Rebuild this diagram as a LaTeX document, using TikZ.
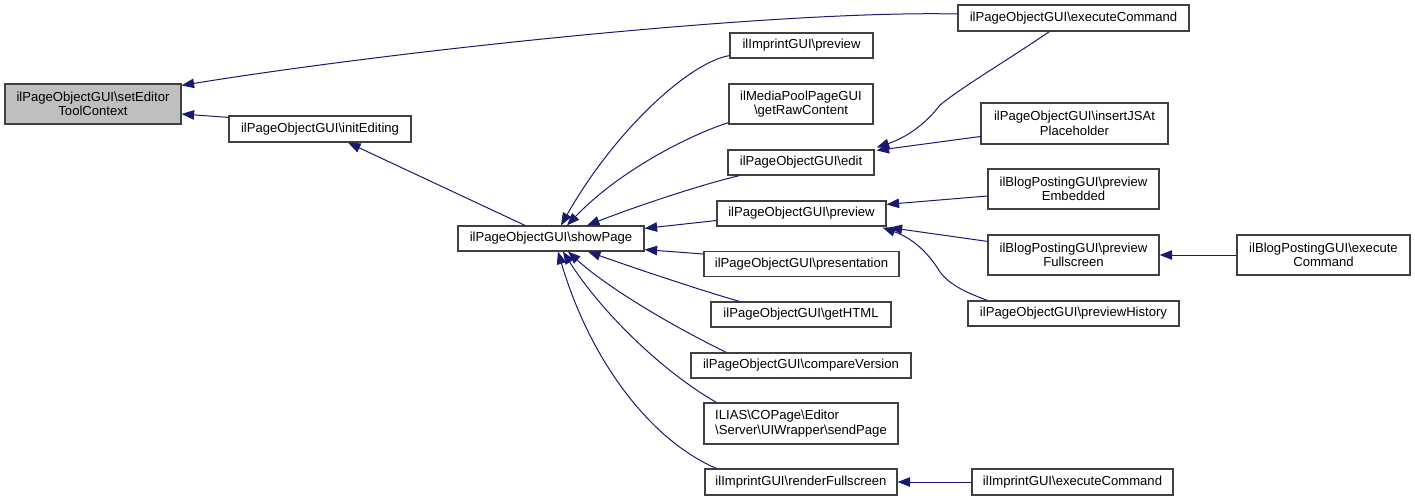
\documentclass[tikz,border=0pt]{standalone}
\usepackage{fontspec}
\newfontfamily\dxfont{Liberation Sans}
\usetikzlibrary{arrows.meta,calc}
\definecolor{edgecol}{HTML}{191970}
\definecolor{boxline}{HTML}{404040}
\definecolor{boxfill}{HTML}{BFBFBF}
\tikzset{
  fnbox/.style={draw=boxline, line width=1.2pt, fill=white, inner sep=0pt, align=center,
    font=\dxfont\fontsize{13.1}{14.5}\selectfont},
  curbox/.style={fnbox, fill=boxfill},
  edge/.style={draw=edgecol, line width=1pt, -{Triangle[length=12.5pt,width=9.5pt]}}
}
\begin{document}
\begin{tikzpicture}[x=1pt,y=-1pt]
\useasboundingbox[fill=white] (0,0) rectangle (1415,501);
% nodes
\node[curbox, minimum width=176pt, minimum height=40pt] (setEditor) at (93,104) {ilPageObjectGUI\textbackslash setEditor\\ToolContext};
\node[fnbox, minimum width=182pt, minimum height=26pt] (initEditing) at (320,129) {ilPageObjectGUI\textbackslash initEditing};
\node[fnbox, minimum width=186pt, minimum height=25pt] (showPage) at (551,238.5) {ilPageObjectGUI\textbackslash showPage};
\node[fnbox, minimum width=231pt, minimum height=26pt] (execPO) at (1073.5,18) {ilPageObjectGUI\textbackslash executeCommand};
\node[fnbox, minimum width=143pt, minimum height=25pt] (imprintPreview) at (801.5,45.5) {ilImprintGUI\textbackslash preview};
\node[fnbox, minimum width=144pt, minimum height=40pt] (mediaPool) at (801,104) {ilMediaPoolPageGUI\\\textbackslash getRawContent};
\node[fnbox, minimum width=146pt, minimum height=25pt] (edit) at (801,162.5) {ilPageObjectGUI\textbackslash edit};
\node[fnbox, minimum width=169pt, minimum height=25pt] (preview) at (801.5,213.5) {ilPageObjectGUI\textbackslash preview};
\node[fnbox, minimum width=195pt, minimum height=25pt] (presentation) at (801.5,264) {ilPageObjectGUI\textbackslash presentation};
\node[fnbox, minimum width=180pt, minimum height=25pt] (getHTML) at (801,314.5) {ilPageObjectGUI\textbackslash getHTML};
\node[fnbox, minimum width=220pt, minimum height=25pt] (compareVersion) at (801,365.5) {ilPageObjectGUI\textbackslash compareVersion};
\node[fnbox, align=left, minimum width=194pt, minimum height=41pt] (sendPage) at (801,423.5) {ILIAS\textbackslash COPage\textbackslash Editor\\\textbackslash Server\textbackslash UIWrapper\textbackslash sendPage};
\node[fnbox, minimum width=192pt, minimum height=26pt] (renderFullscreen) at (801,482) {ilImprintGUI\textbackslash renderFullscreen};
\node[fnbox, minimum width=187pt, minimum height=41pt] (insertJS) at (1074.5,123.5) {ilPageObjectGUI\textbackslash insertJSAt\\Placeholder};
\node[fnbox, minimum width=171pt, minimum height=40pt] (previewEmbedded) at (1073.5,189) {ilBlogPostingGUI\textbackslash preview\\Embedded};
\node[fnbox, minimum width=171pt, minimum height=40pt] (previewFullscreen) at (1073.5,255) {ilBlogPostingGUI\textbackslash preview\\Fullscreen};
\node[fnbox, minimum width=211pt, minimum height=25pt] (previewHistory) at (1073.5,313.5) {ilPageObjectGUI\textbackslash previewHistory};
\node[fnbox, minimum width=173pt, minimum height=40pt] (blogExec) at (1323.5,255) {ilBlogPostingGUI\textbackslash execute\\Command};
\node[fnbox, minimum width=201pt, minimum height=26pt] (imprintExec) at (1072.5,482) {ilImprintGUI\textbackslash executeCommand};
% edges
\draw[edge] ($(execPO.west)+(0,-4)$) .. controls (780,10) and (400,50) .. ($(setEditor.north east)+(0,2)$);
\draw[edge] ($(initEditing.north west)+(0,2)$) -- ($(setEditor.east)+(0,10)$);
\draw[edge] ($(showPage.north)+(-26,0)$) -- ($(initEditing.south)+(28,0)$);
\draw[edge] ($(imprintPreview.south west)+(0,-3)$) .. controls (690,62) and (615,130) .. ($(showPage.north)+(10,0)$);
\draw[edge] ($(mediaPool.south west)+(0,-2)$) .. controls (690,135) and (620,170) .. ($(showPage.north)+(16,0)$);
\draw[edge] ($(edit.south west)+(12,0)$) .. controls (700,185) and (640,205) .. ($(showPage.north)+(36,0)$);
\draw[edge] ($(preview.west)+(0,7)$) -- ($(showPage.north east)+(0,3)$);
\draw[edge] ($(presentation.west)+(0,-10)$) -- ($(showPage.south east)+(0,-2)$);
\draw[edge] ($(getHTML.north west)+(29,0)$) .. controls (700,290) and (640,270) .. ($(showPage.south)+(37,0)$);
\draw[edge] ($(compareVersion.north west)+(36,0)$) .. controls (680,330) and (610,290) .. ($(showPage.south)+(17,0)$);
\draw[edge] ($(sendPage.north west)+(13,0)$) .. controls (660,370) and (600,310) .. ($(showPage.south)+(12,0)$);
\draw[edge] ($(renderFullscreen.north west)+(12,0)$) .. controls (650,440) and (590,360) .. ($(showPage.south)+(7,0)$);
\draw[edge] ($(execPO.south west)+(92,0)$) .. controls (1000,65) and (965,85) .. (940,105) .. controls (925,125) and (905,138) .. ($(edit.north east)+(2,-2)$);
\draw[edge] ($(insertJS.west)+(0,13)$) -- ($(edit.north east)+(2,1)$);
\draw[edge] ($(previewEmbedded.west)+(0,7)$) -- ($(preview.north east)+(0,4)$);
\draw[edge] ($(previewFullscreen.north west)+(0,7)$) -- ($(preview.south east)+(3,1)$);
\draw[edge] ($(previewHistory.north west)+(20,0)$) .. controls (965,292) and (950,285) .. (940,272) .. controls (928,252) and (912,238) .. ($(preview.south east)+(-4,1)$);
\draw[edge] (blogExec.west) -- (previewFullscreen.east);
\draw[edge] (imprintExec.west) -- (renderFullscreen.east);
\end{tikzpicture}
\end{document}
